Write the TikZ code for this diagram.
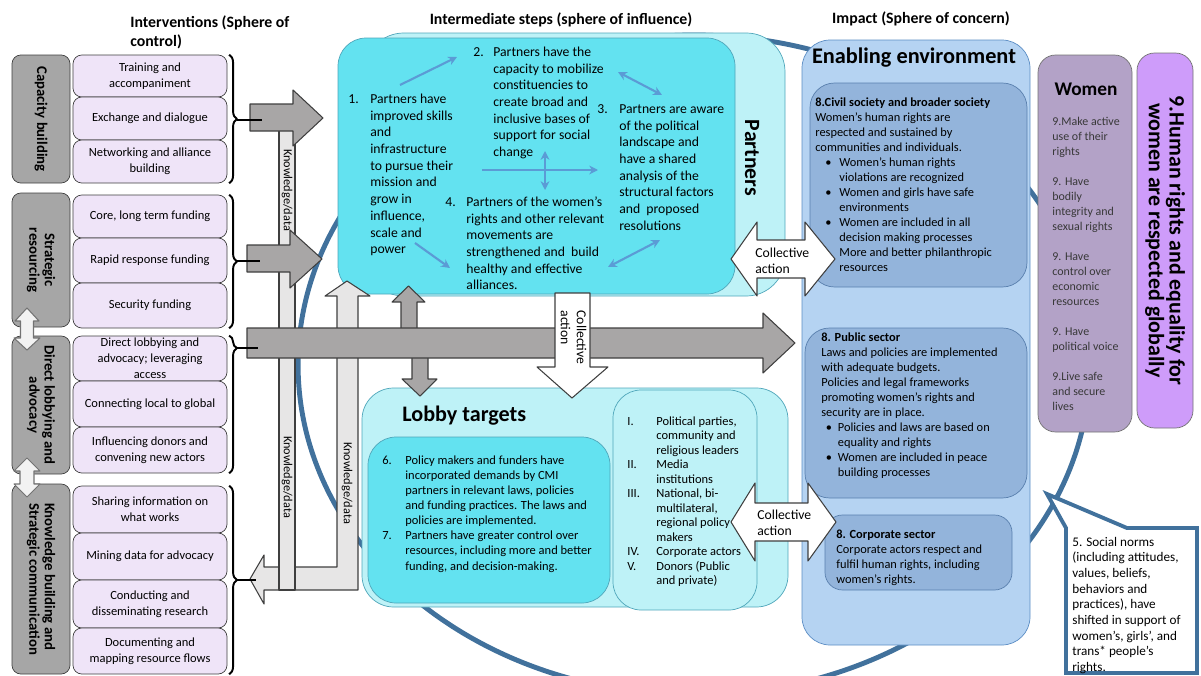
\documentclass[tikz,border=0pt]{standalone}
\usepackage{fontspec}
\setmainfont{Carlito}
\usetikzlibrary{arrows.meta}
\usetikzlibrary{decorations.pathreplacing}

\definecolor{catgray}{HTML}{A6A6A6}
\definecolor{edge}{HTML}{3F3F3F}
\definecolor{lavfill}{HTML}{EFE4F8}
\definecolor{arrgray}{HTML}{A8A6A6}
\definecolor{bargray}{HTML}{E7E6E6}
\definecolor{cyanin}{HTML}{63E2F0}
\definecolor{cyanout}{HTML}{BEF2F7}
\definecolor{cyanedge}{HTML}{4FA6BA}
\definecolor{envfill}{HTML}{B5D3F2}
\definecolor{envedge}{HTML}{5B8DC4}
\definecolor{subfill}{HTML}{93B4DB}
\definecolor{subedge}{HTML}{5A80AE}
\definecolor{ringblue}{HTML}{41719C}
\definecolor{stepblue}{HTML}{5B9BD5}
\definecolor{womenfill}{HTML}{B3A2C7}
\definecolor{goalfill}{HTML}{CE9CFA}

\newcommand{\fsz}[2]{\fontsize{#1}{#2}\selectfont}
\newcommand{\fullrow}[1]{\multicolumn{2}{@{}l@{}}{#1}}

\tikzset{
  sz/.style 2 args={minimum width=#1*0.02cm, minimum height=#2*0.02cm},
  catbox/.style={draw=edge, fill=catgray, rounded corners=5pt, rotate=-90, align=center, inner sep=0pt, font=\fsz{8.4}{8.8}\bfseries},
  actbox/.style={draw=edge, fill=lavfill, rounded corners=5pt, align=center, inner sep=0pt, font=\fsz{7.1}{9}},
  blockarr/.style={draw=edge, fill=arrgray, line width=0.6pt},
  barshape/.style={draw=edge, fill=bargray, line width=0.6pt},
  whitearr/.style={draw=edge, fill=white, line width=0.6pt},
  linkarr/.style={draw=black!55, fill=black!5, line width=0.6pt},
  stepline/.style={stepblue, line width=1.2pt, -{Stealth[length=5pt, width=5pt]}},
  stepboth/.style={stepblue, line width=1.2pt, {Stealth[length=5pt, width=5pt]}-{Stealth[length=5pt, width=5pt]}},
  txt/.style={inner sep=0pt, anchor=north west},
  kdlabel/.style={rotate=-90, inner sep=0pt, font=\fsz{7}{8}},
  hdr/.style={inner sep=0pt, font=\fsz{9}{10.8}\bfseries},
  grp/.style={draw=black, line width=1.1pt, decorate, decoration={brace, amplitude=4.5pt}},
}

\begin{document}
\begin{tikzpicture}[x=0.02cm, y=-0.02cm, line join=round]
\useasboundingbox (0,0) rectangle (1201,676);

% sphere of concern ring
\begin{scope}
  \clip (0,0) rectangle (1201,676);
  \draw[ringblue, line width=2.8pt] (694,365) ellipse [x radius=7.92cm, y radius=6.6cm];
\end{scope}

% headers
\node[hdr, anchor=north west] (hint) at (130,13.4) {\begin{tabular}{@{}l@{}}Interventions (Sphere of\\control)\end{tabular}};
\node[hdr] (hmid) at (561,20) {Intermediate steps (sphere of influence)};
\node[hdr] (himp) at (921,19) {Impact (Sphere of concern)};

% partners
\node[draw=cyanedge, fill=cyanout, rounded corners=22pt, sz={420}{263}] (partout) at (575,164.5) {};
\node[draw=cyanedge, fill=cyanin, rounded corners=16pt, sz={397}{256}] (partin) at (536.5,166) {};
\node[rotate=-90, inner sep=0pt, font=\fsz{12.4}{14}\bfseries] (partlbl) at (752,158) {Partners};

% lobby targets
\node[draw=cyanedge, fill=cyanout, rounded corners=18pt, sz={426}{219}] (lobout) at (575,497.5) {};
\node[draw=cyanedge, fill=cyanin, rounded corners=16pt, sz={242}{166}] (lobin) at (489,520) {};
\node[draw=cyanedge, fill=cyanout, rounded corners=16pt, sz={144}{220}] (lobtgt) at (685,500) {};
\node[anchor=west, inner sep=0pt, font=\fsz{12.6}{14}\bfseries] (loblbl) at (402,416) {Lobby targets};

% enabling environment
\node[draw=envedge, fill=envfill, rounded corners=16pt, sz={228}{605}] (envout) at (916,342.5) {};
\node[draw=subedge, fill=subfill, rounded corners=14pt, sz={217}{204}] (civil) at (918.5,185) {};
\node[draw=subedge, fill=subfill, rounded corners=14pt, sz={222}{170}] (public) at (916,413) {};
\node[draw=subedge, fill=subfill, rounded corners=10pt, sz={187}{75}] (corp) at (918.5,552.5) {};
\node[font=\fsz{12.7}{14}\bfseries, inner sep=0pt] (envlbl) at (914,58) {Enabling environment};

% women and goal
\node[draw=black!55, fill=womenfill, rounded corners=10pt, sz={94}{377}] (women) at (1085,243.5) {};
\node[font=\fsz{11}{13}\bfseries, inner sep=0pt] (womenlbl) at (1086,89) {Women};
\node[draw=black!55, fill=goalfill, rounded corners=10pt, rotate=-90, sz={375}{56}, align=center, inner sep=0pt, font=\fsz{12.5}{11.8}\bfseries] (goal) at (1165,240.5) {9.Human rights and equality for\\women are respected globally};

% social norms callout
\coordinate (normtip) at (1047,494);
\draw[ringblue, line width=2.2pt, fill=white, line join=miter] (1066,528) -- (normtip) -- (1127,528) -- (1197,528) -- (1197,673) -- (1066,673) -- cycle;

% interventions
\node[catbox, sz={128}{58}] (capb) at (41,119) {Capacity building};
\node[catbox, sz={134}{58}] (stra) at (41,260) {Strategic\\resourcing};
\node[catbox, sz={138}{58}] (dlob) at (41,405) {Direct lobbying and\\advocacy};
\node[catbox, sz={190}{58}, align=left] (know) at (41,579) {Knowledge building and\\Strategic communication};

\node[actbox, sz={154}{42}] (train) at (150,76) {Training and\\accompaniment};
\node[actbox, sz={154}{43}] (exch) at (150,118.5) {Exchange and dialogue};
\node[actbox, sz={154}{43}] (netw) at (150,161.5) {Networking and alliance\\building};
\node[actbox, sz={154}{43}] (core) at (150,216.5) {Core, long term funding};
\node[actbox, sz={154}{45}] (rapid) at (150,260.5) {Rapid response funding};
\node[actbox, sz={154}{45}] (secu) at (150,305.5) {Security funding};
\node[actbox, sz={154}{45}] (direct) at (150,358.5) {Direct lobbying and\\advocacy; leveraging\\access};
\node[actbox, sz={154}{46}] (local) at (150,404) {Connecting local to global};
\node[actbox, sz={154}{46}] (donor) at (150,450) {Influencing donors and\\convening new actors};
\node[actbox, sz={154}{47}] (share) at (150,509.5) {Sharing information on\\what works};
\node[actbox, sz={154}{47}] (mine) at (150,556.5) {Mining data for advocacy};
\node[actbox, sz={154}{48}] (resea) at (150,604) {Conducting and\\disseminating research};
\node[actbox, sz={154}{46}] (docu) at (150,651) {Documenting and\\mapping resource flows};

% links between intervention groups
\draw[linkarr] (27,308) -- (39,321) -- (33.5,321) -- (33.5,338) -- (40,338) -- (27,350) -- (14,338) -- (20.5,338) -- (20.5,321) -- (15,321) -- cycle;
\draw[linkarr] (27,458) -- (40,471) -- (34,471) -- (34,484) -- (40,484) -- (27,497) -- (14,484) -- (20,484) -- (20,471) -- (14,471) -- cycle;

% braces
\draw[grp] ([xshift=1pt]train.north east) -- ([xshift=1pt]netw.south east);
\draw[grp] ([xshift=1pt]core.north east) -- ([xshift=1pt]secu.south east);
\draw[grp, decoration={aspect=0.09}] ([xshift=1pt]direct.north east) -- ([xshift=1pt]donor.south east);
\draw[grp] ([xshift=1pt]share.north east) -- ([xshift=1pt]docu.south east);

% knowledge / data feedback
\draw[barshape] (347,281) -- (370,296) -- (358,296) -- (358,590) -- (264,590) -- (264,604) -- (250,579)
  -- (264,555) -- (264,567) -- (337,567) -- (337,296) -- (325,296) -- cycle;
\draw[barshape] (279,120) rectangle (295,590);
\node[kdlabel] (kd1) at (287,190) {Knowledge/data};
\node[kdlabel] (kd2) at (287,477) {Knowledge/data};
\node[kdlabel] (kd3) at (347,483) {Knowledge/data};

% gray arrows
\draw[blockarr] (250,104) -- (293,104) -- (293,90) -- (323,118) -- (293,146) -- (293,131) -- (250,131) -- cycle;
\draw[blockarr] (247,245) -- (290,245) -- (290,230) -- (322,259) -- (290,288) -- (290,272) -- (247,272) -- cycle;
\draw[blockarr] (401,335) -- (401,302) -- (392,302) -- (408.5,286) -- (425,302) -- (417,302) -- (417,335) -- cycle;
\draw[blockarr] (412,350) -- (428,350) -- (428,379) -- (437,379) -- (420,396) -- (402,379) -- (412,379) -- cycle;
\draw[blockarr] (247,328) -- (763,328) -- (763,313) -- (795,343) -- (763,373) -- (763,358) -- (247,358) -- cycle;

% brace tips
\draw[black, line width=1.1pt] (237,120) -- (262,120);
\draw[black, line width=1.1pt] (237,261) -- (260,261);
\draw[black, line width=1.1pt] (237,348) -- (258,348);
\draw[black, line width=1.1pt] (237,580) -- (256,580);

% collective action
\draw[whitearr] (555,293) -- (590,293) -- (590,367) -- (608,367) -- (572,398) -- (537,367) -- (555,367) -- cycle;
\node[rotate=-90, align=left, inner sep=0pt, font=\fsz{7.8}{9.1}] (cadown) at (573.5,337.5) {Collective\\action};
\draw[whitearr] (731,259) -- (757,222) -- (757,240) -- (805,240) -- (805,222) -- (835,259) -- (805,296) -- (805,278) -- (757,278) -- (757,296) -- cycle;
\node[anchor=west, align=left, inner sep=0pt, font=\fsz{7.8}{9.1}] (caup) at (755,261) {Collective\\action};
\draw[whitearr] (731,522) -- (755,483) -- (755,503) -- (808,503) -- (808,483) -- (836,522) -- (808,561) -- (808,541) -- (755,541) -- (755,561) -- cycle;
\node[anchor=west, align=left, inner sep=0pt, font=\fsz{7.8}{9.1}] (calow) at (757,523) {Collective\\action};

% partner steps
\node[txt, font=\fsz{7.8}{9.5}] (step1) at (348,91.5) {\begin{tabular}{@{}p{12.5pt}@{}l@{}}
1. & Partners have\\ & improved skills\\ & and\\ & infrastructure\\ & to pursue their\\
 & mission and\\ & grow in\\ & influence,\\ & scale and\\ & power\end{tabular}};
\node[txt, font=\fsz{7.8}{9.5}] (step2) at (473,44.5) {\begin{tabular}{@{}p{11.4pt}@{}l@{}}
2. & Partners have the\\ & capacity to mobilize\\ & constituencies to\\ & create broad and\\
 & inclusive bases of\\ & support for social\\ & change\end{tabular}};
\node[txt, font=\fsz{7.8}{9.5}] (step3) at (597,101.5) {\begin{tabular}{@{}p{12.5pt}@{}l@{}}
3. & Partners are aware\\ & of the political\\ & landscape and\\ & have a shared\\
 & analysis of the\\ & structural factors\\ & and~ proposed\\ & resolutions\end{tabular}};
\node[txt, font=\fsz{7.8}{9.5}] (step4) at (445,194.5) {\begin{tabular}{@{}p{12pt}@{}l@{}}
4. & Partners of the women’s\\ & rights and other relevant\\ & movements are\\
 & strengthened and~ build\\ & healthy and effective\\ & alliances.\end{tabular}};

\draw[stepline] (400,85) -- (457,57);
\draw[stepboth] (618,72) -- (662,95);
\draw[stepboth] (545,151) -- (545,190);
\draw[stepline] (482,170) -- (598,170);
\draw[stepline] (415,243) -- (450,268);
\draw[stepboth] (608,267) -- (660,240);

% lobby texts
\node[txt, font=\fsz{7.1}{8.6}] (step67) at (382,453.3) {\begin{tabular}{@{}p{13.1pt}@{}l@{}}
6. & Policy makers and funders have\\ & incorporated demands by CMI\\ & partners in relevant laws, policies\\
 & and funding practices. The laws and\\ & policies are implemented.\\
7. & Partners have greater control over\\ & resources, including more and better\\ & funding, and decision-making.\end{tabular}};
\node[txt, font=\fsz{7.1}{8.25}] (tgttx) at (627,414.7) {\begin{tabular}{@{}p{16.5pt}@{}l@{}}
I. & Political parties,\\ & community and\\ & religious leaders\\
II. & Media\\ & institutions\\
III. & National, bi-\\ & multilateral,\\ & regional policy\\ & makers\\
IV. & Corporate actors\\
V. & Donors (Public\\ & and private)\end{tabular}};

% enabling environment texts
\node[txt, font=\fsz{7.05}{8.54}] (civiltx) at (815,95.3) {\begin{tabular}{@{}p{13.7pt}@{}l@{}}
\fullrow{\textbf{8.Civil society and broader society}}\\
\fullrow{Women’s human rights are}\\
\fullrow{respected and sustained by}\\
\fullrow{communities and individuals.}\\
\hspace*{5.7pt}\textbullet & Women’s human rights\\ & violations are recognized\\
\hspace*{5.7pt}\textbullet & Women and girls have safe\\ & environments\\
\hspace*{5.7pt}\textbullet & Women are included in all\\ & decision making processes\\
 & More and better philanthropic\\ & resources\end{tabular}};
\node[txt, font=\fsz{7.05}{8.54}] (publictx) at (821,330.3) {\begin{tabular}{@{}p{9.4pt}@{}l@{}}
\fullrow{\textbf{8. Public sector}}\\
\fullrow{Laws and policies are implemented}\\
\fullrow{with adequate budgets.}\\
\fullrow{Policies and legal frameworks}\\
\fullrow{promoting women’s rights and}\\
\fullrow{security are in place.}\\
\hspace*{2.5pt}\textbullet & Policies and laws are based on\\ & equality and rights\\
\hspace*{2.5pt}\textbullet & Women are included in peace\\ & building processes\end{tabular}};
\node[txt, font=\fsz{7.05}{8.54}] (corptx) at (836,527.3) {\begin{tabular}{@{}l@{}}
\textbf{8. Corporate sector}\\ Corporate actors respect and\\ fulfil human rights, including\\ women’s rights.\end{tabular}};

% women outcomes
\node[txt, font=\fsz{6.8}{8.54}, text=black!78] (womentx) at (1052,114.2) {\begin{tabular}{@{}l@{}}
9.Make active\\ use of their\\ rights\\[8.54pt]
9. Have\\ bodily\\ integrity and\\ sexual rights\\[8.54pt]
9. Have\\ control over\\ economic\\ resources\\[8.54pt]
9. Have\\ political voice\\[8.54pt]
9.Live safe\\ and secure\\ lives\end{tabular}};

% social norms text
\node[txt, font=\fsz{7.5}{8.9}] (normstx) at (1072,535) {\begin{tabular}{@{}l@{}}
5. Social norms\\ (including attitudes,\\ values, beliefs,\\ behaviors and\\ practices), have\\
shifted in support of\\ women’s, girls’, and\\ trans* people’s\\ rights.\end{tabular}};

\end{tikzpicture}
\end{document}
